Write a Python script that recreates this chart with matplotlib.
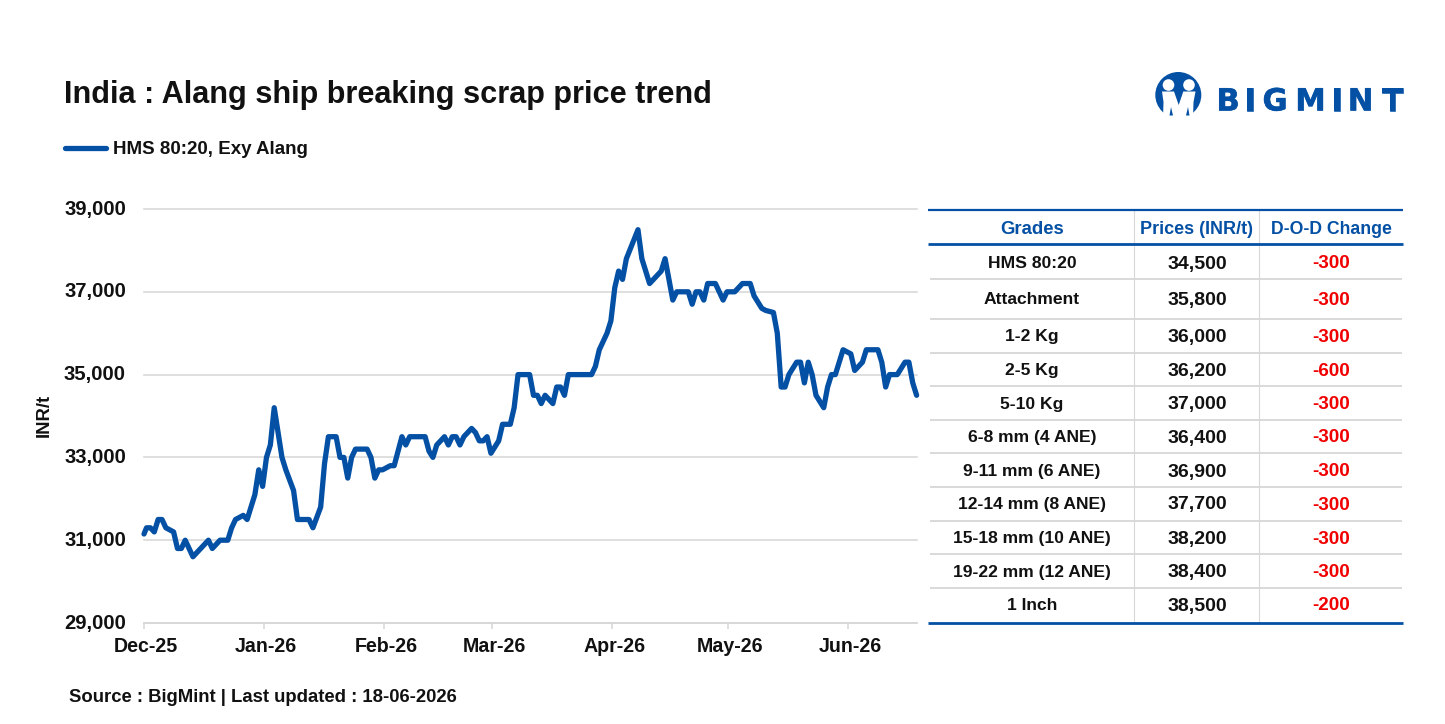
import datetime as dt
import matplotlib
matplotlib.use("Agg")
import matplotlib.dates as mdates
import matplotlib.patheffects as pe
import matplotlib.pyplot as plt
from matplotlib.patches import Circle, Polygon

# Price series: days counted from 1 Dec 2025, and INR/t on those days
START = dt.date(2025, 12, 1)
day_index = [-0.65, 0, 1, 2, 3, 4, 5, 6, 7, 8, 9, 10, 12, 16, 17, 19, 21, 22, 23, 25, 26,
             28, 29, 30, 31, 32, 33, 34, 35, 36, 37, 38, 39, 42, 43, 45, 46, 47, 49, 50, 51,
             52, 53, 54, 57, 58, 59, 60, 61, 63, 64, 66, 67, 68, 72, 73, 74, 75, 77, 78, 79,
             80, 81, 82, 84, 85, 86, 87, 88, 89, 91, 92, 94, 95, 96, 99, 100, 101, 102, 103, 105,
             106, 107, 108, 109, 115, 116, 117, 119, 120, 121, 122, 123, 124, 127, 128, 130, 131, 133, 134, 136,
             137, 140, 141, 142, 143, 144, 145, 147, 149, 150, 152, 154, 156, 157, 159, 160, 162, 163, 164, 165,
             166, 168, 169, 170, 171, 172, 173, 175, 176, 177, 178, 179, 180, 182, 183, 185, 186, 189, 190, 191,
             192, 194, 196, 197, 198, 199]
price = [31150, 31300, 31300, 31200, 31500, 31500, 31300, 31250, 31200, 30800, 30800, 31000, 30600, 31000, 30800, 31000, 31000, 31300, 31500, 31600, 31500,
         32100, 32700, 32300, 33000, 33300, 34200, 33600, 33000, 32700, 32450, 32200, 31500, 31500, 31300, 31800, 32850, 33500, 33500, 33000, 33000,
         32500, 33000, 33200, 33200, 33000, 32500, 32700, 32700, 32800, 32800, 33500, 33300, 33500, 33500, 33150, 33000, 33300, 33500, 33300, 33500,
         33500, 33300, 33500, 33700, 33600, 33400, 33400, 33500, 33100, 33400, 33800, 33800, 34200, 35000, 35000, 34500, 34500, 34300, 34500, 34300,
         34700, 34700, 34500, 35000, 35000, 35200, 35600, 36000, 36300, 37100, 37500, 37300, 37800, 38500, 37800, 37200, 37300, 37500, 37800, 36800,
         37000, 37000, 36700, 37000, 37000, 36800, 37200, 37200, 36800, 37000, 37000, 37200, 37200, 36900, 36600, 36550, 36500, 36000, 34700, 34700,
         35000, 35300, 35300, 34800, 35300, 35000, 34500, 34200, 34700, 35000, 35000, 35300, 35600, 35500, 35100, 35300, 35600, 35600, 35300, 34700,
         35000, 35000, 35300, 35300, 34800, 34500]

month_starts = [dt.date(2025, 12, 1), dt.date(2026, 1, 1), dt.date(2026, 2, 1), dt.date(2026, 3, 1),
                dt.date(2026, 4, 1), dt.date(2026, 5, 1), dt.date(2026, 6, 1)]
month_labels = ["Dec-25", "Jan-26", "Feb-26", "Mar-26", "Apr-26", "May-26", "Jun-26"]
y_ticks = [29000, 31000, 33000, 35000, 37000, 39000]

# Side table
headers = ["Grades", "Prices (INR/t)", "D-O-D Change"]
grades = ["HMS 80:20", "Attachment", "1-2 Kg", "2-5 Kg", "5-10 Kg", "6-8 mm (4 ANE)", "9-11 mm (6 ANE)",
          "12-14 mm (8 ANE)", "15-18 mm (10 ANE)", "19-22 mm (12 ANE)", "1 Inch"]
grade_prices = [34500, 35800, 36000, 36200, 37000, 36400, 36900, 37700, 38200, 38400, 38500]
dod_change = [-300, -300, -300, -600, -300, -300, -300, -300, -300, -300, -200]

BLUE = "#0450A4"
GRID = "#D6D6D6"
INK = "#111111"
FONT = "Liberation Sans"
W, H = 1445, 724

plt.rcParams["font.family"] = FONT
plt.rcParams["font.weight"] = "bold"

fig = plt.figure(figsize=(W / 100, H / 100), dpi=100, facecolor="white")

# Full-figure layer in pixel units for the heading, table and logo
page = fig.add_axes([0, 0, 1, 1], zorder=0)
page.set_xlim(0, W)
page.set_ylim(H, 0)
page.axis("off")

# Price chart
ax = fig.add_axes([144 / W, 1 - 623 / H, (917 - 144) / W, (623 - 209) / H], zorder=1)
ax.patch.set_alpha(0)
base = mdates.date2num(START)
SLOT = 0.65  # daily points sit inside their day slot, right of the month tick
x_values = [base + d for d in day_index]
line, = ax.plot(x_values, price, color=BLUE, lw=3.8, solid_capstyle="round",
                solid_joinstyle="round", label="HMS 80:20, Exy Alang", clip_on=False, zorder=3)
ax.set_ylim(29000, 39000)
ax.set_yticks(y_ticks)
ax.set_yticklabels([f"{v:,}" for v in y_ticks], fontsize=14.6, color=INK, va="center")

# Tick marks sit on month boundaries; the month names hang from minor ticks just right of them
month_x = [mdates.date2num(m) - SLOT for m in month_starts]
ax.set_xticks(month_x)
ax.set_xticklabels([""] * len(month_x))
ax.set_xticks([x + 0.5 for x in month_x], month_labels, minor=True, fontsize=14.1, color=INK)
ax.tick_params(axis="x", which="major", length=4.3, width=1.1, color=GRID)
ax.tick_params(axis="x", which="minor", length=0, pad=10.2)
ax.tick_params(axis="y", length=0, pad=13)
ax.grid(axis="y", color=GRID, lw=1.1, clip_on=False)
ax.set_axisbelow(True)
for name, spine in ax.spines.items():
    spine.set_visible(name == "bottom")
ax.spines["bottom"].set_color(GRID)
ax.spines["bottom"].set_linewidth(1.1)
ax.set_xlim(base - SLOT, base + 199.1)

page.text(44, 415.5, "INR/t", rotation=90, ha="center", va="center", fontsize=13.3, color=INK)
page.text(64, 95, "India : Alang ship breaking scrap price trend", ha="left", va="center",
          fontsize=22.05, color=INK)
page.text(69, 697.5, "Source : BigMint | Last updated : 18-06-2026", ha="left", va="center",
          fontsize=13.35, color=INK)

leg = ax.legend(handles=[line], loc="center left", bbox_to_anchor=(65, 149.5),
                bbox_transform=page.transData, frameon=False, fontsize=13.5,
                borderpad=0, borderaxespad=0, handlelength=2.2, handletextpad=0.37)
for t in leg.get_texts():
    t.set_color(INK)

# Table rules and cells
LEFT, RIGHT = 928, 1403
col_x = [1032, 1197, 1331.5]
dividers = [1134, 1259]
rule_y = [279, 319, 353, 386, 420, 453, 487, 520.5, 554, 588]
row_y = [262, 298.5, 335.5, 369.5, 402.5, 436, 470, 503, 537.5, 570.5, 604]
for y in rule_y:
    page.plot([930, 1402], [y, y], color="#CFCFCF", lw=1.1, solid_capstyle="butt")
for x in dividers:
    page.plot([x, x], [210, 622], color="#D8D8D8", lw=0.8, solid_capstyle="butt")
page.plot([LEFT, RIGHT], [210, 210], color=BLUE, lw=1.6, solid_capstyle="butt")
page.plot([LEFT, RIGHT], [244, 244], color=BLUE, lw=2.0, solid_capstyle="butt")
page.plot([LEFT, RIGHT], [622.5, 622.5], color=BLUE, lw=2.0, solid_capstyle="butt")
head_sizes = [13.3, 13, 12.7]
for x, head, size in zip(col_x, headers, head_sizes):
    page.text(x, 227, head, ha="center", va="center_baseline", fontsize=size, color=BLUE)
for y, grade, value, change in zip(row_y, grades, grade_prices, dod_change):
    page.text(col_x[0], y, grade, ha="center", va="center_baseline", fontsize=12.6, color=INK)
    page.text(col_x[1], y, f"{value:,}", ha="center", va="center_baseline", fontsize=14, color=INK)
    page.text(col_x[2], y, f"{change}", ha="center", va="center_baseline", fontsize=13.6, color="#F00000")

# Brand mark: blue disc with two white figures
page.add_patch(Circle((1178.3, 95), 23, color=BLUE, lw=0))
page.add_patch(Circle((1168.5, 85), 5.8, color="white", lw=0))
page.add_patch(Circle((1189, 85), 5.8, color="white", lw=0))
page.add_patch(Polygon([(1162, 91.5), (1174, 91.5), (1178.7, 105), (1183.3, 91.5), (1195.5, 91.5),
                        (1193.5, 102), (1193, 119), (1163, 119), (1163.5, 102)], color="white", lw=0))
page.add_patch(Polygon([(1169.5, 115.5), (1173, 115.5), (1171, 107)], color=BLUE, lw=0))
page.add_patch(Polygon([(1186, 115.5), (1189.5, 115.5), (1188, 107)], color=BLUE, lw=0))
logo_letters = ["B", "I", "G", "M", "I", "N", "T"]
logo_centres = [1228, 1250, 1275, 1310.5, 1337, 1360.5, 1392.5]
for letter, cx in zip(logo_letters, logo_centres):
    page.text(cx, 99, letter, ha="center", va="center_baseline", fontsize=22, color=BLUE,
              family="DejaVu Sans", weight="bold",
              path_effects=[pe.withStroke(linewidth=0.4, foreground=BLUE)])

fig.savefig("out.png", dpi=100, facecolor="white")
